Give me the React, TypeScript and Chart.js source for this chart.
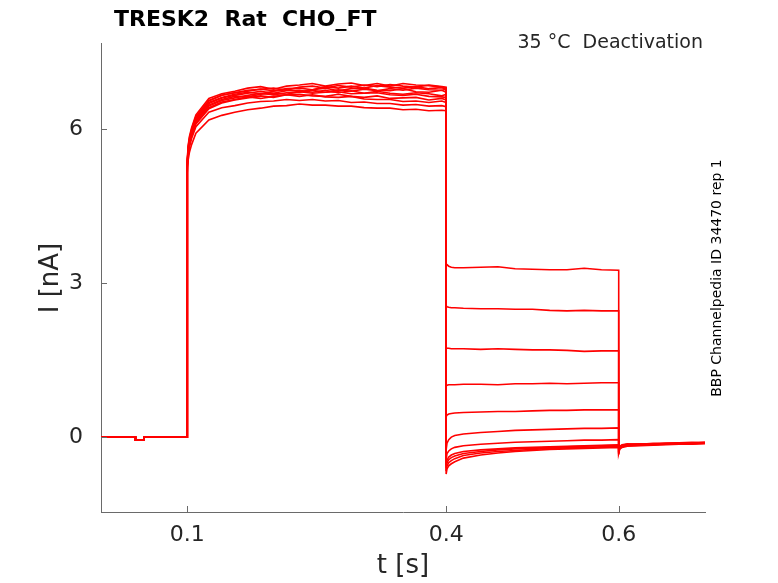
import { useEffect, useRef } from "react";
import { Chart, registerables } from "chart.js";

Chart.register(...registerables);

// time grids (s) for each part of the protocol
const holdT = [0, 0.04, 0.04, 0.05, 0.05, 0.1];
const stepT = [0.1, 0.101, 0.1025, 0.105, 0.11, 0.125, 0.14, 0.155, 0.17, 0.185, 0.2, 0.215, 0.23, 0.245, 0.26, 0.275, 0.29, 0.305, 0.32, 0.335, 0.35, 0.365, 0.38, 0.395, 0.4];
const tailT = [0.4, 0.401, 0.403, 0.406, 0.41, 0.42, 0.44, 0.46, 0.48, 0.5, 0.52, 0.54, 0.56, 0.58, 0.6];
const offT = [0.6, 0.601, 0.604, 0.61, 0.625, 0.64, 0.655, 0.67, 0.685, 0.7];

// current (nA), same holding for every sweep
const holdI = [0, 0, -0.06, -0.06, 0, 0];

// activation step, one row per sweep
const stepI = [
  [5.35, 5.6, 5.78, 5.95, 6.2, 6.55, 6.66, 6.71, 6.76, 6.78, 6.8, 6.76, 6.82, 6.84, 6.8, 6.85, 6.82, 6.86, 6.83, 6.87, 6.84, 6.82, 6.86, 6.83, 6.82],
  [5.25, 5.48, 5.65, 5.82, 6.05, 6.33, 6.42, 6.46, 6.51, 6.54, 6.55, 6.58, 6.56, 6.58, 6.55, 6.56, 6.52, 6.53, 6.5, 6.5, 6.47, 6.48, 6.45, 6.46, 6.44],
  [5.35, 5.62, 5.8, 5.97, 6.22, 6.52, 6.62, 6.68, 6.72, 6.69, 6.74, 6.77, 6.73, 6.77, 6.8, 6.75, 6.79, 6.8, 6.76, 6.75, 6.79, 6.73, 6.72, 6.76, 6.72],
  [5.3, 5.55, 5.72, 5.9, 6.12, 6.42, 6.53, 6.58, 6.63, 6.6, 6.64, 6.67, 6.64, 6.67, 6.63, 6.62, 6.64, 6.59, 6.58, 6.58, 6.54, 6.55, 6.52, 6.55, 6.52],
  [5.4, 5.68, 5.86, 6.03, 6.28, 6.6, 6.69, 6.74, 6.8, 6.83, 6.78, 6.84, 6.86, 6.89, 6.84, 6.88, 6.9, 6.85, 6.89, 6.84, 6.89, 6.86, 6.85, 6.82, 6.8],
  [5.15, 5.4, 5.55, 5.7, 5.92, 6.18, 6.27, 6.33, 6.38, 6.41, 6.45, 6.46, 6.49, 6.47, 6.47, 6.45, 6.45, 6.42, 6.41, 6.41, 6.38, 6.39, 6.36, 6.37, 6.36],
  [5.33, 5.6, 5.78, 5.95, 6.18, 6.5, 6.61, 6.66, 6.7, 6.74, 6.7, 6.75, 6.76, 6.72, 6.76, 6.71, 6.75, 6.7, 6.74, 6.7, 6.68, 6.71, 6.69, 6.65, 6.68],
  [5.32, 5.58, 5.76, 5.93, 6.16, 6.47, 6.58, 6.64, 6.63, 6.68, 6.7, 6.68, 6.73, 6.7, 6.72, 6.73, 6.69, 6.7, 6.71, 6.67, 6.66, 6.68, 6.64, 6.63, 6.62],
  [5.38, 5.65, 5.83, 6.0, 6.25, 6.56, 6.66, 6.71, 6.74, 6.78, 6.75, 6.79, 6.8, 6.77, 6.83, 6.8, 6.84, 6.8, 6.85, 6.82, 6.8, 6.83, 6.79, 6.81, 6.78],
  [5.28, 5.52, 5.7, 5.87, 6.1, 6.4, 6.51, 6.57, 6.61, 6.65, 6.62, 6.67, 6.68, 6.65, 6.64, 6.68, 6.64, 6.62, 6.65, 6.6, 6.61, 6.62, 6.57, 6.6, 6.57],
  [5.3, 5.56, 5.74, 5.92, 6.15, 6.45, 6.56, 6.61, 6.66, 6.7, 6.67, 6.71, 6.72, 6.76, 6.72, 6.77, 6.74, 6.78, 6.75, 6.79, 6.76, 6.8, 6.77, 6.76, 6.78],
];

// deactivation tails
const tailI = [
  [3.38, 3.36, 3.33, 3.31, 3.3, 3.3, 3.31, 3.32, 3.28, 3.27, 3.26, 3.26, 3.29, 3.26, 3.25],
  [2.56, 2.54, 2.53, 2.52, 2.52, 2.51, 2.5, 2.5, 2.49, 2.49, 2.47, 2.46, 2.47, 2.46, 2.46],
  [1.74, 1.73, 1.73, 1.72, 1.72, 1.72, 1.71, 1.72, 1.71, 1.7, 1.7, 1.69, 1.67, 1.68, 1.68],
  [1.0, 1.01, 1.02, 1.02, 1.02, 1.03, 1.03, 1.02, 1.04, 1.04, 1.05, 1.04, 1.05, 1.06, 1.06],
  [0.4, 0.43, 0.45, 0.46, 0.47, 0.48, 0.49, 0.5, 0.5, 0.51, 0.52, 0.52, 0.53, 0.53, 0.53],
  [-0.25, -0.12, -0.05, 0.0, 0.03, 0.06, 0.09, 0.11, 0.13, 0.14, 0.15, 0.16, 0.17, 0.17, 0.18],
  [-0.45, -0.32, -0.27, -0.23, -0.2, -0.17, -0.14, -0.12, -0.1, -0.09, -0.08, -0.07, -0.06, -0.06, -0.05],
  [-0.55, -0.45, -0.39, -0.35, -0.32, -0.28, -0.25, -0.23, -0.21, -0.2, -0.19, -0.18, -0.17, -0.16, -0.15],
  [-0.6, -0.5, -0.44, -0.4, -0.37, -0.32, -0.28, -0.25, -0.23, -0.22, -0.2, -0.19, -0.18, -0.17, -0.16],
  [-0.66, -0.56, -0.5, -0.46, -0.42, -0.36, -0.31, -0.28, -0.26, -0.24, -0.22, -0.21, -0.2, -0.19, -0.18],
  [-0.72, -0.62, -0.56, -0.52, -0.48, -0.41, -0.35, -0.31, -0.28, -0.26, -0.24, -0.23, -0.22, -0.21, -0.2],
];

// return to holding
const offI = [
  [-0.34, -0.24, -0.19, -0.16, -0.15, -0.14, -0.13, -0.14, -0.12, -0.12],
  [-0.32, -0.23, -0.18, -0.16, -0.14, -0.15, -0.13, -0.12, -0.13, -0.11],
  [-0.3, -0.22, -0.18, -0.15, -0.16, -0.14, -0.13, -0.13, -0.12, -0.12],
  [-0.28, -0.21, -0.17, -0.15, -0.14, -0.13, -0.14, -0.12, -0.11, -0.12],
  [-0.26, -0.2, -0.17, -0.16, -0.15, -0.13, -0.12, -0.13, -0.12, -0.1],
  [-0.24, -0.19, -0.16, -0.14, -0.13, -0.14, -0.12, -0.11, -0.12, -0.11],
  [-0.22, -0.18, -0.15, -0.13, -0.14, -0.12, -0.13, -0.11, -0.1, -0.11],
  [-0.2, -0.18, -0.16, -0.15, -0.14, -0.13, -0.12, -0.12, -0.11, -0.1],
  [-0.21, -0.19, -0.17, -0.16, -0.15, -0.14, -0.13, -0.13, -0.12, -0.11],
  [-0.23, -0.2, -0.18, -0.17, -0.16, -0.15, -0.14, -0.13, -0.13, -0.12],
  [-0.25, -0.22, -0.2, -0.18, -0.17, -0.16, -0.15, -0.14, -0.14, -0.13],
];

const xTicks = [0.1, 0.4, 0.6];
const yTicks = [0, 3, 6];

const TEXT = "#262626";
const AXIS = "#6a6a6a";
const FONT = "'DejaVu Sans', sans-serif";

function pts(t: number[], v: number[]) {
  return t.map((x, i) => ({ x, y: v[i] }));
}

const decor = {
  id: "decor",
  afterDraw(chart: any) {
    const { ctx, chartArea: a, scales } = chart;
    ctx.save();
    // inward ticks
    ctx.strokeStyle = AXIS;
    ctx.lineWidth = 1;
    ctx.beginPath();
    xTicks.forEach((v) => {
      const px = Math.round(scales.x.getPixelForValue(v)) + 0.5;
      ctx.moveTo(px, a.bottom);
      ctx.lineTo(px, a.bottom - 6);
    });
    yTicks.forEach((v) => {
      const py = Math.round(scales.y.getPixelForValue(v)) + 0.5;
      ctx.moveTo(a.left, py);
      ctx.lineTo(a.left + 6, py);
    });
    ctx.stroke();

    ctx.fillStyle = "#000";
    ctx.textBaseline = "alphabetic";
    ctx.font = `bold 22px ${FONT}`;
    ctx.textAlign = "left";
    ctx.fillText("TRESK2  Rat  CHO_FT", 114, 26);

    ctx.fillStyle = TEXT;
    ctx.font = `19px ${FONT}`;
    ctx.textAlign = "right";
    ctx.fillText("35 °C  Deactivation", 703, 48);

    ctx.font = `26px ${FONT}`;
    ctx.textAlign = "center";
    ctx.textBaseline = "middle";
    ctx.fillText("t [s]", (a.left + a.right) / 2, 566);

    ctx.save();
    ctx.translate(51, 278);
    ctx.rotate(-Math.PI / 2);
    ctx.fillText("I [nA]", 0, 0);
    ctx.restore();

    ctx.save();
    ctx.font = `14px ${FONT}`;
    ctx.fillStyle = "#000";
    ctx.translate(717, 278);
    ctx.rotate(-Math.PI / 2);
    ctx.fillText("BBP Channelpedia ID 34470 rep 1", 0, 0);
    ctx.restore();

    ctx.restore();
  },
};

export default function App() {
  const canvasRef = useRef<HTMLCanvasElement>(null);
  const chartRef = useRef<Chart | null>(null);

  useEffect(() => {
    if (!canvasRef.current) return;
    if (chartRef.current) chartRef.current.destroy();

    const datasets = stepI.map((_, i) => ({
      data: [
        ...pts(holdT, holdI),
        ...pts(stepT, stepI[i]),
        ...pts(tailT, tailI[i]),
        ...pts(offT, offI[i]),
      ],
      borderColor: "#ff0000",
      borderWidth: 1.6,
      pointRadius: 0,
      tension: 0,
      fill: false,
    }));

    chartRef.current = new Chart(canvasRef.current, {
      type: "line",
      data: { datasets },
      options: {
        animation: false,
        responsive: true,
        maintainAspectRatio: false,
        layout: { padding: { left: 0, top: 43, right: 73, bottom: 0 } },
        plugins: {
          legend: { display: false },
          tooltip: { enabled: false },
        },
        scales: {
          x: {
            type: "linear",
            min: 0,
            max: 0.7,
            grid: { display: false, drawTicks: false },
            border: { display: true, color: AXIS, width: 1 },
            afterBuildTicks: (s: any) => {
              s.ticks = xTicks.map((value) => ({ value }));
            },
            afterFit: (s: any) => {
              s.height = 71;
            },
            ticks: {
              color: TEXT,
              font: { family: FONT, size: 22 },
              padding: 10,
              maxRotation: 0,
              callback: (v: any) => String(v),
            },
          },
          y: {
            type: "linear",
            min: -1.46,
            max: 7.68,
            grid: { display: false, drawTicks: false },
            border: { display: true, color: AXIS, width: 1 },
            afterBuildTicks: (s: any) => {
              s.ticks = yTicks.map((value) => ({ value }));
            },
            afterFit: (s: any) => {
              s.width = 101;
            },
            ticks: {
              color: TEXT,
              font: { family: FONT, size: 22 },
              padding: 18,
              callback: (v: any) => String(v),
            },
          },
        },
      },
      plugins: [decor],
    } as any);

    return () => {
      if (chartRef.current) {
        chartRef.current.destroy();
        chartRef.current = null;
      }
    };
  }, []);

  return (
    <div style={{ position: "fixed", left: 0, top: 0, width: 778, height: 583, background: "#fff" }}>
      <canvas ref={canvasRef} />
    </div>
  );
}
